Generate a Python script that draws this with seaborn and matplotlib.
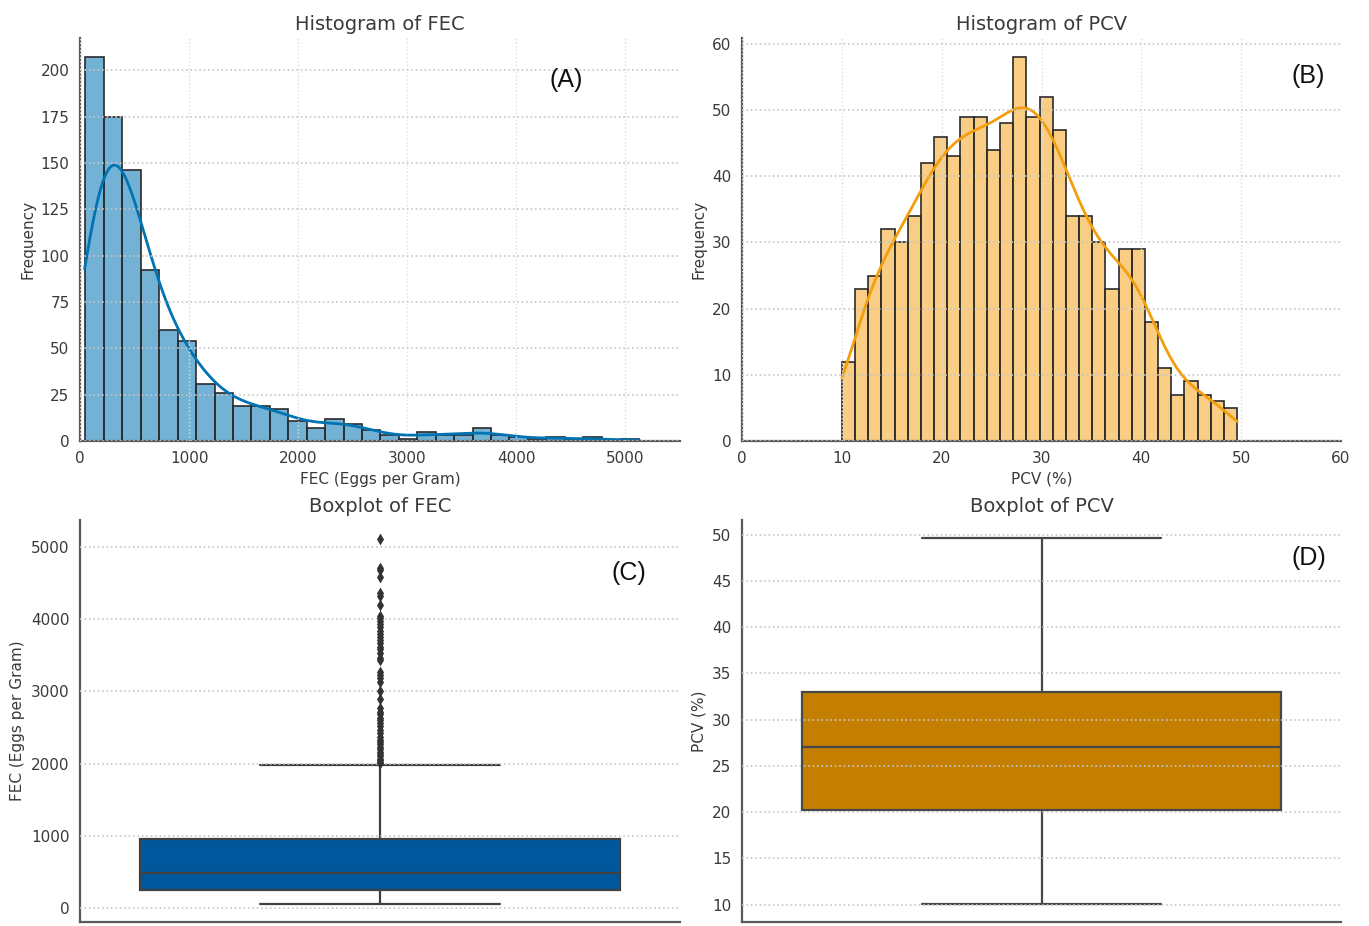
import numpy as np
import matplotlib
matplotlib.use("Agg")
import matplotlib.pyplot as plt
import seaborn as sns

# =========================
# Data
# =========================
# FEC histogram: 30 bins between these limits
fec_bin_range = (50, 5120)
fec_counts = [207, 175, 146, 92, 60, 54, 31, 26, 19, 19,
              17, 11, 7, 12, 9, 6, 3, 1, 5, 3,
              3, 7, 3, 2, 1, 2, 1, 2, 0, 1]

# PCV histogram: 30 bins between these limits
pcv_bin_range = (10.0, 49.6)
pcv_counts = [12, 23, 25, 32, 30, 34, 42, 46, 43, 49,
              49, 44, 48, 58, 49, 52, 47, 34, 34, 30,
              23, 29, 29, 18, 11, 7, 9, 7, 6, 5]

# boxplot summaries: lower whisker, Q1, median, Q3, upper whisker
fec_box = [60, 250, 490, 950, 1980]
fec_outliers = [5115, 4715, 4678, 4577, 4357, 4320, 4196, 4044, 4010, 3980,
                3934, 3888, 3840, 3796, 3759, 3710, 3667, 3620, 3585, 3529,
                3460, 3428, 3263, 3231, 3180, 3125, 3001, 2896, 2772, 2712,
                2680, 2634, 2600, 2565, 2519, 2470, 2427, 2372, 2326, 2300,
                2266, 2230, 2206, 2160, 2128, 2100, 2068, 2045, 2023, 2005]
pcv_box = [10.1, 20.2, 27.0, 33.0, 49.6]

panel_labels = ["(A)", "(B)", "(C)", "(D)"]

# =========================
# Style
# =========================
sns.set_style("white")
plt.rcParams["font.family"] = ["DejaVu Sans"]
TXT = "#3a3a3a"
SPINE = "#5a5a5a"
HGRID = dict(linestyle=":", color="#c6c6c6", linewidth=1.2)
VGRID = dict(linestyle=":", color="#dedede", linewidth=1.0)

fig = plt.figure(figsize=(13.69, 9.26), dpi=100)
W, H = 1369, 926


def add_ax(x0, y_top, x1, y_bot):
    return fig.add_axes([x0 / W, 1 - y_bot / H, (x1 - x0) / W, (y_bot - y_top) / H])


ax_a = add_ax(80, 38, 680, 441)
ax_b = add_ax(742, 38, 1341, 441)
ax_c = add_ax(80, 520, 680, 922)
ax_d = add_ax(742, 520, 1341, 922)


def sample_from_hist(bin_range, counts):
    edges = np.linspace(bin_range[0], bin_range[1], len(counts) + 1)
    centers = (edges[:-1] + edges[1:]) / 2
    return edges, np.repeat(centers, counts)


def style_axis(ax):
    sns.despine(ax=ax)
    for side in ["left", "bottom"]:
        ax.spines[side].set_color(SPINE)
        ax.spines[side].set_linewidth(1.6)
    ax.tick_params(colors=TXT, labelsize=11, length=4, width=1.2, color=SPINE)
    ax.set_axisbelow(False)


# =========================
# (A) Histogram of FEC
# =========================
edges, fec_sample = sample_from_hist(fec_bin_range, fec_counts)
sns.histplot(fec_sample, bins=edges, kde=True, color="#0173B2", alpha=0.55,
             edgecolor="#2a2a2a", linewidth=1.2,
             kde_kws=dict(cut=0.45), line_kws=dict(linewidth=2), ax=ax_a)
ax_a.set_xlim(0, 5500)
ax_a.set_xticks(range(0, 5001, 1000))
ax_a.set_yticks(range(0, 201, 25))
ax_a.yaxis.grid(True, **HGRID)
ax_a.xaxis.grid(True, **VGRID)
ax_a.set_title("Histogram of FEC", fontsize=14, color=TXT)
ax_a.set_xlabel("FEC (Eggs per Gram)", fontsize=11, color=TXT)
ax_a.set_ylabel("Frequency", fontsize=11, color=TXT)
style_axis(ax_a)

# =========================
# (B) Histogram of PCV
# =========================
edges, pcv_sample = sample_from_hist(pcv_bin_range, pcv_counts)
sns.histplot(pcv_sample, bins=edges, kde=True, color="#F59E0B", alpha=0.5,
             edgecolor="#2a2a2a", linewidth=1.2,
             kde_kws=dict(cut=0.3), line_kws=dict(linewidth=2), ax=ax_b)
ax_b.set_xlim(0, 60)
ax_b.set_xticks(range(0, 61, 10))
ax_b.set_yticks(range(0, 61, 10))
ax_b.yaxis.grid(True, **HGRID)
ax_b.xaxis.grid(True, **VGRID)
ax_b.set_title("Histogram of PCV", fontsize=14, color=TXT)
ax_b.set_xlabel("PCV (%)", fontsize=11, color=TXT)
ax_b.set_ylabel("Frequency", fontsize=11, color=TXT)
style_axis(ax_b)

# =========================
# (C) Boxplot of FEC
# =========================
sns.boxplot(y=fec_box, color="#01579B", saturation=1, linecolor="#404040",
            linewidth=1.6, width=0.8, showfliers=False, ax=ax_c)
sns.stripplot(y=fec_outliers, jitter=False, marker="d", size=6,
              color="#333333", ax=ax_c)
ax_c.set_xlim(-0.5, 0.5)
ax_c.set_ylim(-193, 5373)
ax_c.set_yticks(range(0, 5001, 1000))
ax_c.set_xticks([0])
ax_c.set_xticklabels([""])
ax_c.yaxis.grid(True, **HGRID)
ax_c.set_title("Boxplot of FEC", fontsize=14, color=TXT)
ax_c.set_xlabel("")
ax_c.set_ylabel("FEC (Eggs per Gram)", fontsize=11, color=TXT)
style_axis(ax_c)

# =========================
# (D) Boxplot of PCV
# =========================
sns.boxplot(y=pcv_box, color="#C47F00", saturation=1, linecolor="#474747",
            linewidth=1.6, width=0.8, ax=ax_d)
ax_d.set_xlim(-0.5, 0.5)
ax_d.set_yticks(range(10, 51, 5))
ax_d.set_xticks([0])
ax_d.set_xticklabels([""])
ax_d.yaxis.grid(True, **HGRID)
ax_d.set_title("Boxplot of PCV", fontsize=14, color=TXT)
ax_d.set_xlabel("")
ax_d.set_ylabel("PCV (%)", fontsize=11, color=TXT)
style_axis(ax_d)

# panel letters
label_pos = [(0.81, 0.895), (0.945, 0.905), (0.915, 0.868), (0.947, 0.905)]
for ax, lab, (px, py) in zip([ax_a, ax_b, ax_c, ax_d], panel_labels, label_pos):
    ax.text(px, py, lab, transform=ax.transAxes, ha="center", va="center",
            fontsize=18, color="#111111", family=["Liberation Sans", "DejaVu Sans"])

fig.savefig("out.png", dpi=100)
